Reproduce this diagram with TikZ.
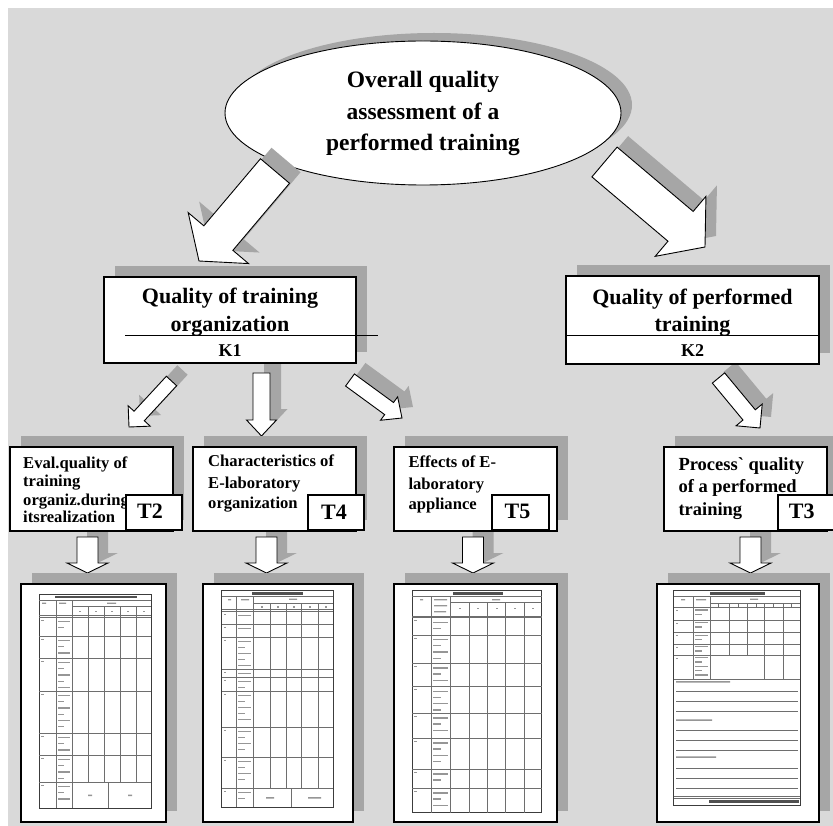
\documentclass[tikz,border=0pt]{standalone}
\usepackage{fontspec}
\setmainfont{Liberation Serif}
\newfontfamily\plainserif{Liberation Serif}
\usetikzlibrary{calc,shapes.geometric,shadows}
\definecolor{bggray}{RGB}{217,217,217}
\definecolor{shgray}{RGB}{166,166,166}
\definecolor{tblc}{RGB}{110,110,110}
\definecolor{tblo}{RGB}{60,60,60}
\definecolor{txtc}{RGB}{150,150,150}
\definecolor{ttlc}{RGB}{80,80,80}
% block arrow: #1 tail, #2 tip, #3 shaft half width, #4 head half width, #5 head length, #6 style
\newcommand{\blockarr}[6]{%
  \path[#6] ($(#1)!#3!90:(#2)$)
    -- ($($(#2)!#5!(#1)$)!#3!90:(#2)$)
    -- ($($(#2)!#5!(#1)$)!#4!90:(#2)$)
    -- (#2)
    -- ($($(#2)!#5!(#1)$)!#4!-90:(#2)$)
    -- ($($(#2)!#5!(#1)$)!#3!-90:(#2)$)
    -- ($(#1)!#3!-90:(#2)$) -- cycle;}
% text bars in a table column: x1,x2,y1,y2,step
\newcommand{\tcol}[5]{%
  \pgfmathtruncatemacro\nn{(#4-#3-1.5)/#5}%
  \ifnum\nn>0
  \foreach \i in {1,...,\nn}{%
    \fill[txtc] ({#1+1.5},{#3+#5*\i-2.3}) rectangle ({#1+1.5+(#2-#1-3.5)*(0.55+0.45*mod(\i,2))},{#3+#5*\i-1});}%
  \fi}
\begin{document}
\begin{tikzpicture}[x=1pt,y=-1pt,line join=miter,
  shbox/.style={draw=black,line width=1.1pt,fill=white,inner sep=0pt,outer sep=0pt,anchor=north west,
    drop shadow={shadow xshift=11pt,shadow yshift=11pt,fill=shgray,opacity=1,draw=none}},
  docbox/.style={draw=black,line width=1.4pt,fill=white,inner sep=0pt,outer sep=0pt,anchor=north west,
    drop shadow={shadow xshift=11pt,shadow yshift=11pt,fill=shgray,opacity=1,draw=none}},
  lblbox/.style={draw=black,line width=1.1pt,fill=white,inner sep=0pt,outer sep=0pt,anchor=north west},
  ellip/.style={ellipse,draw=black,line width=0.9pt,fill=white,inner sep=0pt,minimum width=396pt,minimum height=144pt,
    drop shadow={shadow xshift=11pt,shadow yshift=8pt,fill=shgray,opacity=1,draw=none}},
  arrw/.style={fill=white,draw=black,line width=0.9pt},
  arrsh/.style={fill=shgray},
  tbl/.style={draw=tblc,line width=0.5pt},
  tblout/.style={draw=tblo,line width=0.75pt},
  etxt/.style={font=\fontsize{23.5}{28}\selectfont\bfseries,inner sep=0pt,anchor=base},
  ktxt/.style={font=\fontsize{22}{26}\selectfont\bfseries,inner sep=0pt,anchor=base},
  klab/.style={font=\fontsize{18}{22}\selectfont\bfseries,inner sep=0pt,anchor=base},
  ltxt/.style={font=\fontsize{16.6}{19}\selectfont\bfseries,inner sep=0pt,anchor=base west},
  ltxtb/.style={font=\fontsize{18.5}{22}\selectfont\bfseries,inner sep=0pt,anchor=base west},
  tlab/.style={font=\fontsize{22}{26}\selectfont\bfseries,inner sep=0pt,anchor=base}]
\useasboundingbox (0,0) rectangle (833,826);
\fill[bggray] (8,8) rectangle (833,826);

% top ellipse
\node[ellip] (top) at (423,113) {};

% arrow end points
\coordinate (a1t) at (275,171);   \coordinate (a1h) at (199,261);
\coordinate (a2t) at (604.5,162); \coordinate (a2h) at (705,247);
\coordinate (a3t) at (171.5,381); \coordinate (a3h) at (129,427);
\coordinate (a4t) at (261.5,373); \coordinate (a4h) at (261.5,436);
\coordinate (a5t) at (350,380);   \coordinate (a5h) at (402,418);
\coordinate (a6t) at (718.5,378); \coordinate (a6h) at (760,428);
\coordinate (b1t) at (87.5,537);  \coordinate (b1h) at (87.5,573);
\coordinate (b2t) at (266.5,537); \coordinate (b2h) at (266.5,573);
\coordinate (b3t) at (473,537);   \coordinate (b3h) at (473,573);
\coordinate (b4t) at (750.5,537); \coordinate (b4h) at (750.5,573);

% arrow shadows
\begin{scope}[transform canvas={xshift=11pt,yshift=11pt}]
  \blockarr{a1t}{a1h}{19pt}{39.5pt}{30pt}{arrsh}
  \blockarr{a2t}{a2h}{19.5pt}{39.3pt}{32pt}{arrsh}
  \blockarr{a3t}{a3h}{7pt}{15pt}{15pt}{arrsh}
  \blockarr{a4t}{a4h}{8.5pt}{15pt}{16pt}{arrsh}
  \blockarr{a5t}{a5h}{7.5pt}{14.5pt}{16pt}{arrsh}
  \blockarr{a6t}{a6h}{8pt}{17pt}{17pt}{arrsh}
\end{scope}
\begin{scope}[transform canvas={xshift=10pt,yshift=10pt}]
  \blockarr{b1t}{b1h}{10.5pt}{20.5pt}{10pt}{arrsh}
  \blockarr{b2t}{b2h}{10.5pt}{20.5pt}{10pt}{arrsh}
  \blockarr{b3t}{b3h}{10.5pt}{20.5pt}{10pt}{arrsh}
  \blockarr{b4t}{b4h}{10.5pt}{20.5pt}{10pt}{arrsh}
\end{scope}
% arrows
\blockarr{a1t}{a1h}{19pt}{39.5pt}{30pt}{arrw}
\blockarr{a2t}{a2h}{19.5pt}{39.3pt}{32pt}{arrw}
\blockarr{a3t}{a3h}{7pt}{15pt}{15pt}{arrw}
\blockarr{a4t}{a4h}{8.5pt}{15pt}{16pt}{arrw}
\blockarr{a5t}{a5h}{7.5pt}{14.5pt}{16pt}{arrw}
\blockarr{a6t}{a6h}{8pt}{17pt}{17pt}{arrw}
\blockarr{b1t}{b1h}{10.5pt}{20.5pt}{10pt}{arrw}
\blockarr{b2t}{b2h}{10.5pt}{20.5pt}{10pt}{arrw}
\blockarr{b3t}{b3h}{10.5pt}{20.5pt}{10pt}{arrw}
\blockarr{b4t}{b4h}{10.5pt}{20.5pt}{10pt}{arrw}

% level 2 boxes
\node[shbox,minimum width=252pt,minimum height=86pt] (k1) at (104,277) {};
\node[shbox,minimum width=253pt,minimum height=88pt] (k2) at (566,276) {};
\draw[line width=1pt] (125,336) -- (378,336);
\draw[line width=1pt] (566,336) -- (819,336);

% level 3 boxes
\node[shbox,minimum width=163pt,minimum height=84pt] (t2) at (10,447) {};
\node[shbox,minimum width=163pt,minimum height=84pt] (t4) at (193,447) {};
\node[shbox,minimum width=163pt,minimum height=84pt] (t5) at (394,447) {};
\node[shbox,minimum width=163pt,minimum height=84pt] (t3) at (664,447) {};

% document pages
\node[docbox,minimum width=145pt,minimum height=238pt] (d1) at (21,584) {};
\node[docbox,minimum width=150pt,minimum height=238pt] (d2) at (203,584) {};
\node[docbox,minimum width=163pt,minimum height=238pt] (d3) at (394,584) {};
\node[docbox,minimum width=162pt,minimum height=238pt] (d4) at (657,584) {};

% ---- table in document 1
\draw[tblout] (39,594) rectangle (151,808);
\draw[tbl] (39,600)--(151,600) (39,615)--(151,615) (39,617)--(151,617) (72,606)--(151,606);
\draw[tbl] (56,600)--(56,808) (72,600)--(72,808);
\foreach \xx in {88,104,120,136} \draw[tbl] (\xx,606)--(\xx,782);
\foreach \yy in {636,658,691,733,755,782} \draw[tbl] (39,\yy)--(151,\yy);
\draw[tbl] (108,782)--(108,808);
\fill[ttlc] (55,596) rectangle (137,598.3);
\fill[txtc] (42,602.5) rectangle (46,603.8) (59,602.5) rectangle (66,603.8) (107,602.5) rectangle (116,603.8);
\foreach \xx in {80,96,112,128,143.5} \fill[txtc] (\xx-1,610.5) rectangle (\xx+1,611.8);
\foreach \ya/\yb in {617/636,636/658,658/691,691/733,733/755,755/782,782/808}{
  \tcol{56}{72}{\ya}{\yb}{6.2}
  \fill[txtc] (41,\ya+2.5) rectangle (43.5,\ya+3.7);}
\fill[txtc] (88,794.5) rectangle (92,796) (128,794.5) rectangle (132,796);

% ---- table in document 2
\draw[tblout] (221.7,590.7) rectangle (333.3,807);
\draw[tbl] (221.7,596)--(333.3,596) (221.7,609.3)--(333.3,609.3) (221.7,611)--(333.3,611) (253.3,603)--(333.3,603);
\draw[tbl] (236.7,596)--(236.7,807) (253.3,596)--(253.3,807);
\foreach \xx in {270,286,301.7,318.3} \draw[tbl] (\xx,603)--(\xx,788);
\foreach \yy in {624,637,669,677,691,727,757,788} \draw[tbl] (221.7,\yy)--(333.3,\yy);
\draw[tbl] (291.7,788)--(291.7,807);
\fill[ttlc] (252,592.3) rectangle (303,594.5);
\fill[txtc] (228,599) rectangle (231,600.3) (241,599) rectangle (249,600.3) (289,598.5) rectangle (297,599.8);
\foreach \xx in {261.6,278,293.8,310,325.8} \fill[txtc] (\xx-1,606.3) rectangle (\xx+1,607.5);
\foreach \ya/\yb in {611/624,624/637,637/669,669/677,677/691,691/727,727/757,757/788,788/807}{
  \tcol{236.7}{253.3}{\ya}{\yb}{6}
  \fill[txtc] (223.5,\ya+2.5) rectangle (226,\ya+3.7);}
\fill[txtc] (266,797) rectangle (274,798.5) (308,797) rectangle (321,798.5);

% ---- table in document 3
\draw[tblout] (412.3,590.7) rectangle (541.7,812.7);
\draw[tbl] (412.3,596)--(541.7,596) (412.3,616)--(541.7,616) (412.3,617.6)--(541.7,617.6) (450,602.7)--(541.7,602.7);
\draw[tbl] (431.7,596)--(431.7,812.7) (450,596)--(450,812.7);
\foreach \xx in {469,487.3,505.7,524} \draw[tbl] (\xx,602.7)--(\xx,812.7);
\foreach \yy in {635,663.3,686.7,713.3,738.3,769.3,788.3} \draw[tbl] (412.3,\yy)--(541.7,\yy);
\fill[ttlc] (453,592.3) rectangle (503,594.5);
\fill[txtc] (420,599) rectangle (423,600.3) (434,599) rectangle (447,600.3) (434,605) rectangle (447,606.3) (434,611) rectangle (446,612.3) (492,599) rectangle (500,600.3);
\foreach \xx in {459.5,478,496.5,514.8,532.8} \fill[txtc] (\xx-1,607.5) rectangle (\xx+1,608.8);
\foreach \ya/\yb in {617.6/635,635/663.3,663.3/686.7,686.7/713.3,713.3/738.3,738.3/769.3,769.3/788.3,788.3/812.7}{
  \tcol{431.7}{450}{\ya}{\yb}{6.2}
  \fill[txtc] (414,\ya+2.5) rectangle (416.5,\ya+3.7);}

% ---- table in document 4
\draw[tblout] (673.7,590.7) rectangle (800.3,805);
\draw[tbl] (673.7,596)--(800.3,596) (710.3,603)--(800.3,603) (673.7,607.3)--(800.3,607.3);
\draw[tbl] (693,596)--(693,679.3) (710.3,596)--(710.3,679.3);
\foreach \xx in {718,738,756.3,773,791.3} \draw[tbl] (\xx,603)--(\xx,607.3);
\foreach \xx in {729.7,747} \draw[tbl] (\xx,603)--(\xx,655);
\foreach \xx in {764.7,783} \draw[tbl] (\xx,603)--(\xx,679.3);
\foreach \yy in {620,632.7,644,655,679.3} \draw[tbl] (673.7,\yy)--(800.3,\yy);
\foreach \yy in {691.7,701.7,711.7,730,740,750,768.3,778.3,788.3} \draw[tbl] (676,\yy)--(798,\yy);
\draw[tbl] (673.7,796.7)--(800.3,796.7) (673.7,798.3)--(800.3,798.3);
\fill[ttlc] (710,592.3) rectangle (765,594.5);
\fill[txtc] (681,599) rectangle (685,600.3) (696,599) rectangle (706,600.3) (750,598.5) rectangle (758,599.8);
\foreach \ya/\yb in {607.3/620,620/632.7,632.7/644,644/655,655/679.3}{
  \tcol{693}{710.3}{\ya}{\yb}{4.3}
  \fill[txtc] (675.5,\ya+2.5) rectangle (678,\ya+3.7);}
\fill[txtc] (676,681) rectangle (730,682.5) (676,719.3) rectangle (712,720.8) (676,756.3) rectangle (716,757.8);
\fill[ttlc] (709,800) rectangle (799,803);

% ---- texts
\node[etxt] (e1) at (423,88) {Overall quality};
\node[etxt] (e2) at (423,119.5) {assessment of a};
\node[etxt] (e3) at (423,151) {performed training};

\node[ktxt] (k1a) at (230,304) {Quality of training};
\node[ktxt] (k1b) at (230,331.7) {organization};
\node[klab] (k1c) at (230,356) {K1};
\node[ktxt] (k2a) at (692.5,305) {Quality of performed};
\node[ktxt] (k2b) at (692.5,331.7) {training};
\node[klab] (k2c) at (692.5,356) {K2};

\node[ltxt] (t2a) at (23,468.3) {Eval.quality of};
\node[ltxt] (t2b) at (23,486.7) {training};
\node[ltxt] (t2c) at (23,505) {organiz.during};
\node[ltxt] (t2d) at (23,522.7) {itsrealization};
\node[ltxt] (t4a) at (208,466.7) {Characteristics of};
\node[ltxt] (t4b) at (208,488.3) {E-laboratory};
\node[ltxt] (t4c) at (208,508.3) {organization};
\node[ltxt] (t5a) at (408.3,467.3) {Effects of E-};
\node[ltxt] (t5b) at (408.3,489.3) {laboratory};
\node[ltxt] (t5c) at (408.3,509.3) {appliance};
\node[ltxtb] (t3a) at (678.3,470) {Process{\plainserif\bfseries`} quality};
\node[ltxtb] (t3b) at (678.3,492.7) {of a performed};
\node[ltxtb] (t3c) at (678.3,515) {training};

% label boxes (drawn over the box texts)
\node[lblbox,minimum width=56pt,minimum height=35pt] (l2) at (126,495) {};
\node[lblbox,minimum width=56pt,minimum height=35pt] (l4) at (308,495) {};
\node[lblbox,minimum width=57pt,minimum height=35pt] (l5) at (492,495) {};
\node[lblbox,minimum width=57pt,minimum height=35pt] (l3) at (778,495) {};
\node[tlab] (l2t) at (150,518.3) {T2};
\node[tlab] (l4t) at (334,519.3) {T4};
\node[tlab] (l5t) at (517.5,518.3) {T5};
\node[tlab] (l3t) at (801.7,518.3) {T3};
\end{tikzpicture}
\end{document}
